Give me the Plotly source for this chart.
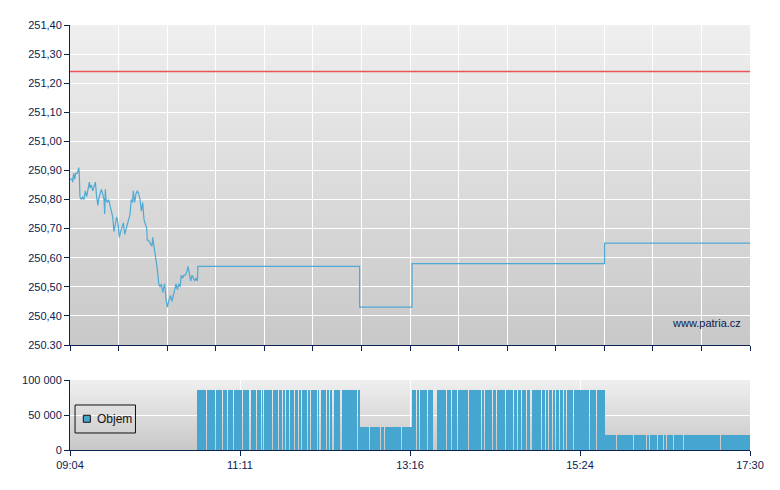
import base64
import pandas as pd
import plotly.graph_objects as go
from plotly.subplots import make_subplots

# ---------------- data ----------------
session_start = "2024-01-01 09:04:00"
session_minutes = 506  # 09:04 -> 17:30

# price line: minutes after 09:04, price
line_min = [0, 1.5, 2.0, 2.7, 3.5, 4.2, 5.5, 6.5, 6.9, 7.4,
            8.4, 9.4, 10.4, 11.4, 12.4, 13.4, 14.4, 14.9, 15.9, 16.9,
            17.9, 18.9, 19.8, 20.8, 21.3, 22.3, 23.3, 24.3, 25.3, 25.8,
            26.3, 26.8, 27.8, 28.8, 29.8, 30.8, 31.8, 32.7, 33.7, 34.7,
            35.7, 36.7, 37.7, 38.7, 39.7, 40.7, 41.7, 42.7, 43.7, 44.7,
            45.6, 46.6, 47.1, 48.1, 49.1, 50.1, 51.1, 52.1, 53.1, 54.1,
            55.1, 56.1, 57.1, 57.5, 58.5, 59.5, 61.0, 61.5, 62.5, 63.0,
            64.0, 65.0, 66.0, 67.0, 68.0, 69.0, 69.4, 70.4, 71.4, 72.4,
            73.4, 74.4, 74.9, 75.9, 76.9, 77.9, 78.9, 79.9, 80.9, 81.9,
            82.8, 83.8, 84.8, 85.8, 86.8, 87.8, 88.8, 89.8, 90.8, 91.8,
            92.8, 93.8, 94.8, 95.2,
            215.5, 215.5, 254.5, 254.5, 397.8, 397.8, 506]
line_price = [250.87, 250.87, 250.86, 250.89, 250.87, 250.89, 250.89, 250.91, 250.89, 250.81,
              250.80, 250.81, 250.80, 250.83, 250.81, 250.84, 250.86, 250.84, 250.85, 250.83,
              250.85, 250.86, 250.81, 250.78, 250.80, 250.82, 250.835, 250.82, 250.80, 250.75,
              250.835, 250.80, 250.79, 250.80, 250.78, 250.76, 250.74, 250.69, 250.72, 250.74,
              250.72, 250.67, 250.69, 250.71, 250.72, 250.68, 250.70, 250.71, 250.73, 250.75,
              250.80, 250.79, 250.83, 250.79, 250.82, 250.83, 250.82, 250.80, 250.76, 250.79,
              250.73, 250.71, 250.70, 250.66, 250.66, 250.65, 250.64, 250.67, 250.64, 250.62,
              250.59, 250.56, 250.51, 250.50, 250.51, 250.48, 250.49, 250.51, 250.46, 250.43,
              250.45, 250.47, 250.47, 250.45, 250.47, 250.49, 250.51, 250.49, 250.51, 250.50,
              250.54, 250.53, 250.54, 250.54, 250.55, 250.57, 250.55, 250.52, 250.54, 250.53,
              250.52, 250.53, 250.52, 250.57,
              250.57, 250.43, 250.43, 250.58, 250.58, 250.65, 250.65]

reference_price = 251.24

# volume: segments (start min, end min, volume) and the short breaks inside them
vol_seg_start = [94.5, 215.5, 254.5, 397.8]
vol_seg_end = [215.5, 254.5, 397.8, 506.0]
vol_seg_value = [86000, 33000, 86000, 21000]
vol_gap_min = [101.2, 108.6, 113.8, 117.2, 119.1, 121.3, 126.5, 128.4, 130.2, 131.7,
               133.9, 139.1, 142.5, 143.8, 150.7, 152.5, 155.5, 158.1, 160.7, 163.0,
               166.7, 170.4, 171.9, 176.9, 178.6, 184.2, 186.0, 190.5, 193.1, 195.7,
               201.7, 213.6,
               222.7, 230.7, 233.7, 246.7,
               258.0, 260.4, 264.2, 265.7, 271.6, 280.3, 284.0, 286.5, 288.0, 296.2,
               306.4, 308.3, 314.2, 317.7, 324.2, 329.9, 333.1, 336.1, 339.8, 343.0,
               351.0, 353.5, 355.9, 358.9, 361.4, 363.9, 367.1, 369.6, 374.5, 386.2,
               391.9,
               406.3, 419.2, 429.1, 431.1, 437.0, 439.0, 441.5, 444.0, 445.7, 448.9,
               456.4, 484.2]
vol_gap_width = {133.9: 1.9, 186.0: 1.5, 201.7: 1.5, 271.6: 2.6, 343.0: 1.5, 429.1: 1.1, 437.0: 1.1}
vol_series_name = "Objem"

y_tick_vals = [250.30, 250.40, 250.50, 250.60, 250.70, 250.80, 250.90, 251.00, 251.10, 251.20, 251.30, 251.40]
y_tick_text = ["250.30", "250,40", "250,50", "250,60", "250,70", "250,80", "250,90",
               "251,00", "251,10", "251,20", "251,30", "251,40"]
x_tick_text = ["09:04", "11:11", "13:16", "15:24", "17:30"]
vol_tick_vals = [0, 50000, 100000]
vol_tick_text = ["0", "50 000", "100 000"]

# ---------------- build ----------------
base = pd.Timestamp(session_start)
to_t = lambda m: base + pd.to_timedelta(m, unit="min")
t_end = to_t(session_minutes)

line_t = [to_t(m) for m in line_min]

bar_x, bar_w, bar_y = [], [], []
for s, e, v in zip(vol_seg_start, vol_seg_end, vol_seg_value):
    gaps = sorted(g for g in vol_gap_min if s < g < e)
    cur = s
    for g in gaps:
        w = vol_gap_width.get(g, 0.75)
        a, b = cur, g - w / 2
        if b > a:
            bar_x.append(to_t((a + b) / 2)); bar_w.append((b - a) * 60000); bar_y.append(v)
        cur = g + w / 2
    if e > cur:
        bar_x.append(to_t((cur + e) / 2)); bar_w.append((e - cur) * 60000); bar_y.append(v)

NAVY = "#0b2150"
BAR = "#47a6cf"
LINE = "#4ea9d3"
FONT = "Liberation Sans, Arial, sans-serif"

fig = make_subplots(rows=2, cols=1, shared_xaxes=False, vertical_spacing=0.0)

fig.add_trace(go.Scatter(x=[base, t_end], y=[reference_price, reference_price], mode="lines",
                         line=dict(color="#ea5555", width=1.5), showlegend=False, hoverinfo="skip"),
              row=1, col=1)
fig.add_trace(go.Scatter(x=line_t, y=line_price, mode="lines",
                         line=dict(color=LINE, width=1.2), showlegend=False),
              row=1, col=1)
fig.add_trace(go.Bar(x=bar_x, y=bar_y, width=bar_w, name=vol_series_name,
                     marker=dict(color=BAR, line=dict(width=0)), showlegend=False), row=2, col=1)

# gradient background image
svg = ('<svg xmlns="http://www.w3.org/2000/svg" width="10" height="100" preserveAspectRatio="none">'
       '<defs><linearGradient id="g" x1="0" y1="0" x2="0" y2="1">'
       '<stop offset="0" stop-color="#efefef"/><stop offset="1" stop-color="#c8c8c8"/>'
       '</linearGradient></defs><rect width="10" height="100" fill="url(#g)"/></svg>')
src = "data:image/svg+xml;base64," + base64.b64encode(svg.encode()).decode()
for xr, yr in [("x domain", "y domain"), ("x2 domain", "y2 domain")]:
    fig.add_layout_image(dict(source=src, xref=xr, yref=yr, x=0, y=1, sizex=1, sizey=1,
                              xanchor="left", yanchor="top", sizing="stretch", layer="below"))

# page body has an 8px margin: figure sits at (8, 8) in the window
ML, MT, MR, MB = 62, 17, 38, 48
total_px = 490 - MT - MB  # 425
top_dom = [(442 - 337) / total_px, 1.0]
bot_dom = [0.0, (442 - 372) / total_px]

common_x = dict(type="date", range=[base, t_end], showline=True, linecolor=NAVY, linewidth=1,
                ticks="outside", ticklen=5, tickcolor=NAVY, showgrid=True, gridcolor="white",
                gridwidth=1, zeroline=False, fixedrange=True,
                tickfont=dict(family=FONT, size=11, color=NAVY))

top_dtick = session_minutes / 14 * 60000
fig.update_xaxes(**common_x, tickmode="linear", tick0=base, dtick=top_dtick, showticklabels=False,
                 row=1, col=1)
bot_vals = [to_t(session_minutes / 4 * k) for k in range(5)]
fig.update_xaxes(**common_x, tickmode="array", tickvals=bot_vals, ticktext=x_tick_text, row=2, col=1)

fig.update_yaxes(range=[250.30, 251.40], tickmode="array", tickvals=y_tick_vals, ticktext=y_tick_text,
                 showline=True, linecolor=NAVY, linewidth=1, ticks="outside", ticklen=5, tickcolor=NAVY,
                 showgrid=True, gridcolor="white", gridwidth=1, zeroline=False, domain=top_dom,
                 tickfont=dict(family=FONT, size=11, color=NAVY), row=1, col=1)
fig.update_yaxes(range=[0, 100000], tickmode="array", tickvals=vol_tick_vals, ticktext=vol_tick_text,
                 showline=True, linecolor=NAVY, linewidth=1, ticks="outside", ticklen=5, tickcolor=NAVY,
                 showgrid=True, gridcolor="white", gridwidth=1, zeroline=False, domain=bot_dom,
                 tickfont=dict(family=FONT, size=11, color=NAVY), row=2, col=1)

fig.add_annotation(text="www.patria.cz", xref="x domain", yref="y domain", x=0.99, y=0.07,
                   xanchor="right", yanchor="middle", showarrow=False,
                   font=dict(family=FONT, size=11, color=NAVY))

# compact legend box (drawn as shapes + text) in the volume panel
fig.add_shape(type="rect", xref="x2 domain", yref="y2 domain", x0=0.0074, x1=0.0963, y0=0.243, y1=0.643,
              line=dict(color="#111111", width=1), fillcolor="rgba(0,0,0,0)", layer="above")
fig.add_shape(type="rect", xref="x2 domain", yref="y2 domain", x0=0.0196, x1=0.0299, y0=0.396, y1=0.496,
              line=dict(color="#111111", width=1), fillcolor=BAR, layer="above")
fig.add_annotation(text=vol_series_name, xref="x2 domain", yref="y2 domain", x=0.0365, y=0.44,
                   xanchor="left", yanchor="middle", showarrow=False,
                   font=dict(family=FONT, size=12, color="#111111"))

fig.update_layout(
    width=780, height=490,
    margin=dict(l=ML, r=MR, t=MT, b=MB),
    paper_bgcolor="white", plot_bgcolor="#dcdcdc",
    bargap=0,
    showlegend=False,
    font=dict(family=FONT, size=11, color=NAVY),
)

fig.write_html("out.html")
